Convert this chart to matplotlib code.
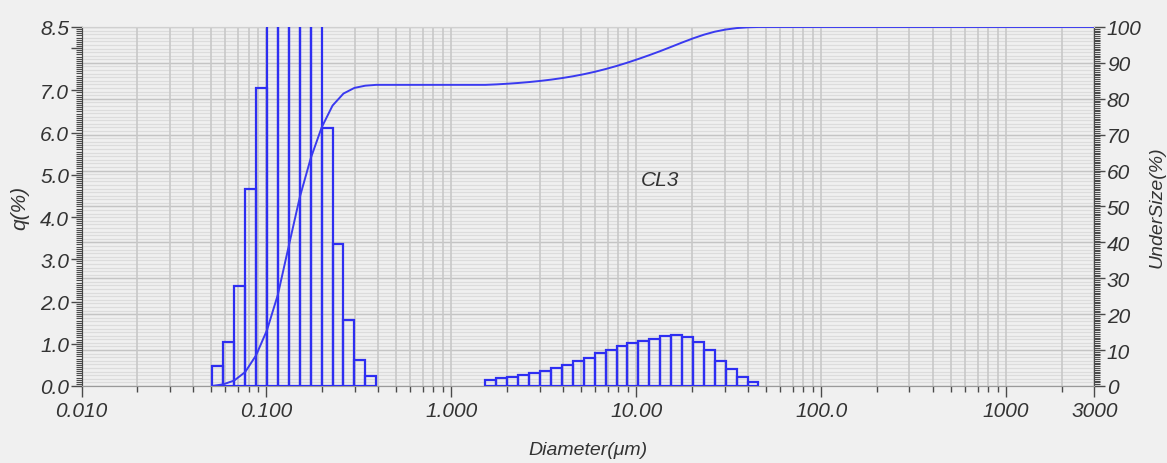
import numpy as np
import matplotlib
matplotlib.use("Agg")
import matplotlib.pyplot as plt
from matplotlib.ticker import MultipleLocator, FixedLocator, NullFormatter

plt.rcParams['font.family'] = ['Liberation Sans', 'DejaVu Sans']

# channel edges (um) of the two populated size ranges
edges_fine = [0.0510, 0.05843, 0.06694, 0.0767, 0.08785, 0.1007, 0.1153, 0.1321,
              0.1514, 0.1734, 0.1987, 0.2276, 0.2608, 0.2988, 0.3423, 0.3922]
q_fine = [0.47, 1.05, 2.37, 4.66, 7.05, 9.9, 13.6, 13.5, 10.8, 8.6,
          6.11, 3.35, 1.57, 0.62, 0.23]

edges_coarse = [1.528, 1.751, 2.006, 2.298, 2.633, 3.017, 3.456, 3.959, 4.536,
                5.196, 5.953, 6.82, 7.813, 8.951, 10.25, 11.75, 13.46, 15.42,
                17.66, 20.24, 23.19, 26.57, 30.44, 34.86, 39.94, 45.76]
q_coarse = [0.13, 0.18, 0.21, 0.26, 0.31, 0.36, 0.43, 0.50, 0.58, 0.67,
            0.77, 0.85, 0.94, 1.01, 1.07, 1.12, 1.19, 1.20, 1.16, 1.03,
            0.84, 0.60, 0.40, 0.22, 0.09]

x_ticks = [0.01, 0.1, 1, 10, 100, 1000, 3000]
x_labels = ['0.010', '0.100', '1.000', '10.00', '100.0', '1000', '3000']
q_ticks = [0, 1, 2, 3, 4, 5, 6, 7, 8, 8.5]
q_labels = ['0.0', '1.0', '2.0', '3.0', '4.0', '5.0', '6.0', '7.0', '', '8.5']

blue = '#2e2ef2'
txt = '#333333'
tick_c = '#4a4a4a'
fs = 15

fig = plt.figure(figsize=(11.67, 4.64), dpi=100, facecolor='#f0f0f0')
ax = fig.add_axes([0.0699, 0.166, 0.9378 - 0.0699, 0.9397 - 0.166])
ax2 = ax.twinx()
ax.set_zorder(2)
ax.patch.set_visible(False)
ax2.set_facecolor('#fdfdfd')

ax.set_xscale('log')
ax.set_xlim(0.01, 3000)
ax.set_ylim(0, 8.5)
ax2.set_ylim(0, 100)

# horizontal grid (behind, on right axis)
ax2.hlines(np.arange(1, 100), 0.01, 3000, colors='#dcdcdc', linewidth=0.9, zorder=0)
ax2.yaxis.set_major_locator(MultipleLocator(10))
ax2.yaxis.set_minor_locator(MultipleLocator(0.5))
ax2.grid(True, axis='y', which='major', color='#c4c4c4', linewidth=1.0, zorder=0)

# vertical grid
ax.set_axisbelow(True)
ax.xaxis.set_major_locator(FixedLocator(x_ticks))
ax.xaxis.set_minor_locator(FixedLocator(
    [m * 10.0 ** p for p in range(-2, 4) for m in range(2, 10)]))
ax.set_xticklabels(x_labels)
ax.xaxis.set_minor_formatter(NullFormatter())
ax.grid(True, axis='x', which='both', color='#c8c8c8', linewidth=1.2)

# histogram
for edges, q in [(edges_fine, q_fine), (edges_coarse, q_coarse)]:
    e = np.array(edges)
    ax.bar(e[:-1], q, width=np.diff(e), align='edge', fill=False,
           edgecolor=blue, linewidth=1.6, zorder=3)

# cumulative undersize
cum_fine = np.cumsum(q_fine)
cum_coarse = cum_fine[-1] + np.cumsum(q_coarse)
cx = np.concatenate([edges_fine, edges_coarse, [3000]])
cy = np.concatenate([[0], cum_fine, [cum_fine[-1]], cum_coarse, [cum_coarse[-1]]])
ax.plot(cx, cy, color='#3a3af0', linewidth=1.4, transform=ax2.transData,
        zorder=4, clip_on=True)

# left axis
ax.set_yticks(q_ticks)
ax.set_yticklabels(q_labels)
ax.yaxis.set_minor_locator(MultipleLocator(0.05))
ax.tick_params(axis='y', which='major', direction='out', length=8, width=1.0,
               color=tick_c, pad=1, labelsize=fs, labelcolor=txt)
ax.tick_params(axis='y', which='minor', direction='out', length=4, width=0.8,
               color=tick_c)
ax.tick_params(axis='x', which='major', direction='out', length=8, width=1.0,
               color=tick_c, pad=3, labelsize=fs, labelcolor=txt)
ax.tick_params(axis='x', which='minor', direction='out', length=4, width=1.0,
               color=tick_c)
ax2.tick_params(axis='y', which='major', direction='out', length=8, width=1.0,
                color=tick_c, pad=1, labelsize=fs, labelcolor=txt)
ax2.tick_params(axis='y', which='minor', direction='out', length=4, width=0.8,
                color=tick_c)

for a in (ax, ax2):
    a.spines['top'].set_color('#d0d0d0')
    a.spines['bottom'].set_color('#9a9a9a')
    a.spines['left'].set_color(tick_c)
    a.spines['right'].set_color(tick_c)

for lab in ax.get_xticklabels() + ax.get_yticklabels() + ax2.get_yticklabels():
    lab.set_fontstyle('italic')

ax.set_xlabel('Diameter(μm)', fontsize=14, fontstyle='italic', color=txt, labelpad=15)
ax.set_ylabel('q(%)', fontsize=fs, fontstyle='italic', color=txt, labelpad=8)
ax2.set_ylabel('UnderSize(%)', fontsize=14, fontstyle='italic', color=txt, labelpad=5)

ax.text(0.571, 0.574, 'CL3', transform=ax.transAxes, fontsize=fs,
        fontstyle='italic', color=txt, ha='center', va='center')

fig.savefig('out.png', dpi=100, facecolor=fig.get_facecolor())
